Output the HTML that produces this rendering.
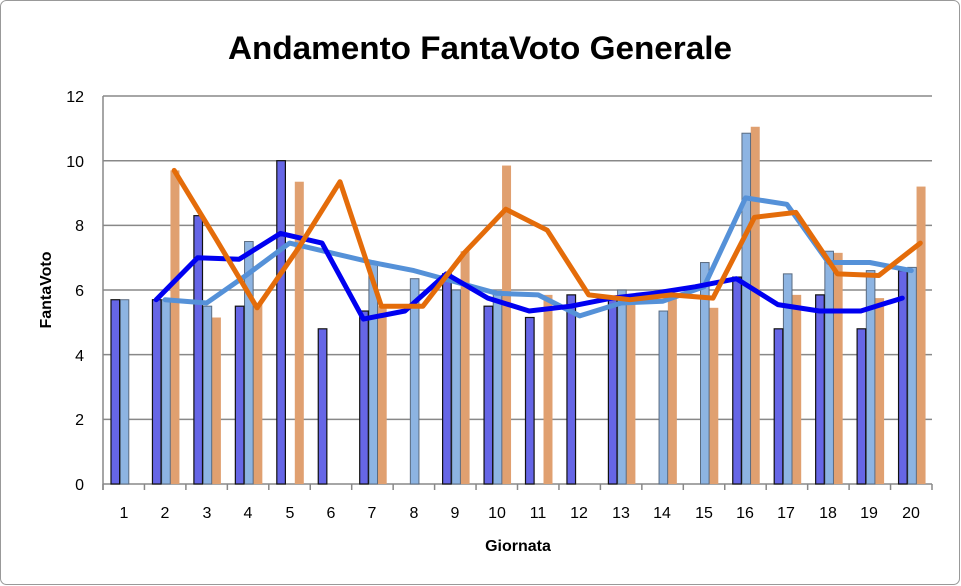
<!DOCTYPE html>
<html><head><meta charset="utf-8"><style>
html,body{margin:0;padding:0;background:#fff}
svg{display:block;font-family:"Liberation Sans",sans-serif}
</style></head><body>
<svg id="c" width="961" height="586" viewBox="0 0 961 586" xmlns="http://www.w3.org/2000/svg">
<rect x="0.5" y="0.5" width="959" height="584" rx="6" fill="#fff" stroke="#999"/>
<text x="480" y="59" text-anchor="middle" font-size="32" font-weight="bold" textLength="504" lengthAdjust="spacingAndGlyphs">Andamento FantaVoto Generale</text>
<g font-size="16" text-anchor="end">
<text x="84" y="490">0</text><text x="84" y="425">2</text><text x="84" y="361">4</text><text x="84" y="296">6</text><text x="84" y="231">8</text><text x="84" y="167">10</text><text x="84" y="102">12</text>
</g>
<g font-size="16" text-anchor="middle" id="xl">
<text x="124" y="518">1</text><text x="165" y="518">2</text><text x="207" y="518">3</text><text x="248" y="518">4</text><text x="290" y="518">5</text><text x="331" y="518">6</text><text x="372" y="518">7</text><text x="414" y="518">8</text><text x="455" y="518">9</text><text x="497" y="518">10</text><text x="538" y="518">11</text><text x="579" y="518">12</text><text x="621" y="518">13</text><text x="662" y="518">14</text><text x="704" y="518">15</text><text x="745" y="518">16</text><text x="786" y="518">17</text><text x="828" y="518">18</text><text x="869" y="518">19</text><text x="911" y="518">20</text>
</g>
<text x="518" y="551" text-anchor="middle" font-size="16" font-weight="bold">Giornata</text>
<text transform="translate(51,290) rotate(-90)" text-anchor="middle" font-size="16" font-weight="bold">FantaVoto</text>
<g id="g"></g>
</svg>
<script>
var g=document.getElementById('g'),NS='http://www.w3.org/2000/svg';
function el(t,a){var e=document.createElementNS(NS,t);for(var k in a)e.setAttribute(k,a[k]);g.appendChild(e);return e;}
var L=103,R=932,Y0=484,U=32.33,W=(R-L)/20;
function y(v){return Y0-v*U;}
for(var i=1;i<=6;i++)el('line',{x1:L,x2:R,y1:y(i*2),y2:y(i*2),stroke:'#888','stroke-width':1.5});
el('line',{x1:L,x2:L,y1:y(12),y2:Y0+6,stroke:'#888','stroke-width':1.5});
el('line',{x1:L,x2:R,y1:Y0,y2:Y0,stroke:'#888','stroke-width':1.5});
for(var i=0;i<=20;i++){var x=L+i*W;el('line',{x1:x,x2:x,y1:Y0,y2:Y0+6,stroke:'#888','stroke-width':1.5});}
var N=null;
var dk=[5.7,5.7,8.3,5.5,10,4.8,5.35,N,6.5,5.5,5.15,5.85,5.7,N,N,6.4,4.8,5.85,4.8,6.6];
var lt=[5.7,5.7,5.5,7.5,N,N,6.8,6.35,6.0,5.9,N,N,6.0,5.35,6.85,10.85,6.5,7.2,6.6,6.7];
var or=[N,9.7,5.15,5.6,9.35,N,5.5,N,7.2,9.85,5.85,N,5.7,5.9,5.45,11.05,5.85,7.15,5.75,9.2];
for(var i=0;i<20;i++){var x=L+i*W;
 if(or[i]!=N)el('rect',{x:x+26,y:y(or[i]),width:9,height:Y0-y(or[i]),fill:'#e0a070'});
 if(lt[i]!=N)el('rect',{x:x+17.2,y:y(lt[i]),width:8.6,height:Y0-y(lt[i]),fill:'#8db4e2',stroke:'#5a6b80','stroke-width':1});
 if(dk[i]!=N)el('rect',{x:x+8,y:y(dk[i]),width:8.6,height:Y0-y(dk[i]),fill:'#6666e6',stroke:'#111','stroke-width':1.2});
}
var ld=[N,5.7,7.0,6.95,7.75,7.45,5.1,5.35,6.5,5.75,5.35,5.5,5.75,5.9,6.1,6.35,5.55,5.35,5.35,5.75];
var ll=[N,5.7,5.6,6.5,7.45,7.15,6.85,6.6,6.25,5.9,5.85,5.2,5.6,5.65,6.1,8.85,8.65,6.85,6.85,6.6];
var lo=[N,9.7,7.6,5.45,7.3,9.35,5.5,5.5,7.15,8.5,7.85,5.85,5.7,5.85,5.75,8.25,8.4,6.5,6.45,7.45];
function line(d,off,c){var p=[];for(var i=0;i<20;i++)if(d[i]!=N)p.push((L+W*(i+0.5)+off).toFixed(1)+','+y(d[i]).toFixed(1));
 el('polyline',{points:p.join(' '),fill:'none',stroke:c,'stroke-width':5,'stroke-linejoin':'round','stroke-linecap':'round'});}
line(ll,0,'#5591d8');line(ld,-9,'#0000f0');line(lo,9,'#e46c0a');
</script>
</body></html>
